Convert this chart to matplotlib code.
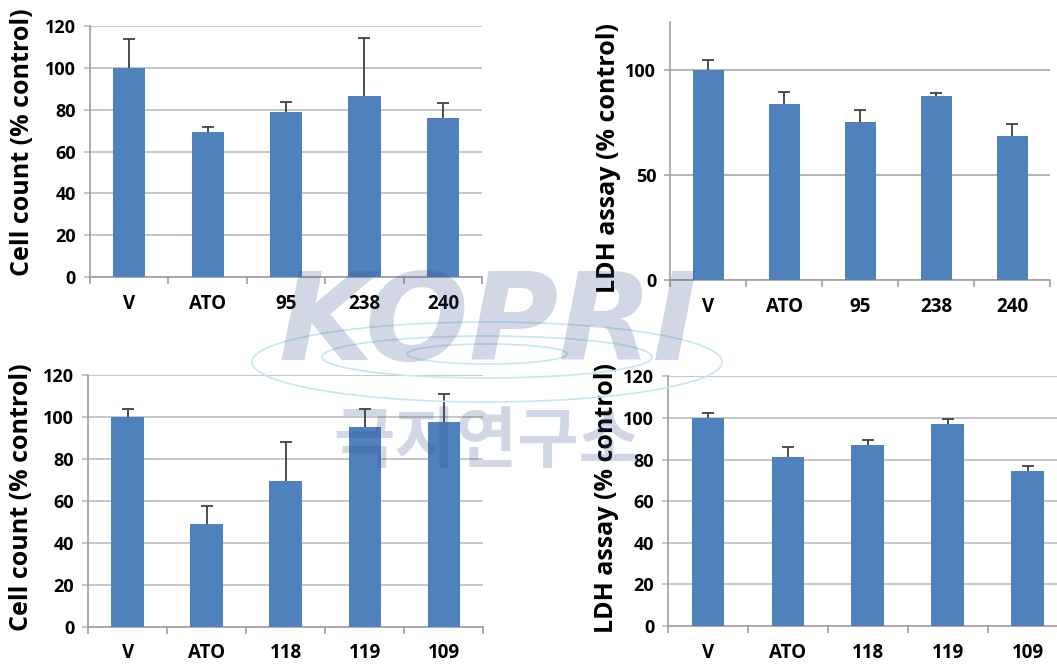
import numpy as np
import matplotlib
matplotlib.use("Agg")
import matplotlib.pyplot as plt
from matplotlib.patches import Ellipse

plt.rcParams['font.family'] = ['Open Sans', 'DejaVu Sans']

# top row
cats_top = ["V", "ATO", "95", "238", "240"]
cell_top = [100, 69.5, 79.0, 86.3, 76.2]
cell_top_err = [13.8, 2.4, 4.8, 27.8, 7.0]
ldh_top = [100, 83.7, 75.4, 87.6, 68.7]
ldh_top_err = [4.8, 6.0, 5.6, 1.3, 5.4]

# bottom row
cats_bot = ["V", "ATO", "118", "119", "109"]
cell_bot = [100, 49.1, 69.6, 95.4, 97.7]
cell_bot_err = [3.6, 8.4, 18.6, 8.4, 13.2]
ldh_bot = [100, 81.3, 86.9, 97.0, 74.4]
ldh_bot_err = [2.6, 4.6, 2.4, 2.7, 2.4]

bar_color = "#4F81BD"
grid_color = "#BDBDBD"
spine_color = "#9E9E9E"


def panel(ax, cats, vals, errs, ylabel, ymax, yticks, label_xy, grid_col=grid_color):
    x = np.arange(len(cats))
    ax.bar(x, vals, width=0.41, color=bar_color, zorder=3)
    eb = ax.errorbar(x, vals, yerr=[np.zeros(len(vals)), errs], fmt="none",
                     ecolor="#404040", elinewidth=1.3, capsize=4, capthick=1.3, zorder=4)
    # plus-only error bars: hide the cap sitting on the bar top
    eb[1][0].set_visible(False)
    ax.set_xlim(-0.5, len(cats) - 0.5)
    ax.set_ylim(0, ymax)
    ax.set_yticks(yticks)
    ax.set_yticklabels([str(t) for t in yticks], fontsize=13, fontweight="bold")
    ax.yaxis.grid(True, color=grid_col, linewidth=1.2, zorder=0)
    ax.set_axisbelow(True)
    # category boundaries as major ticks, labels on minor ticks
    ax.set_xticks(np.arange(len(cats) + 1) - 0.5)
    ax.set_xticklabels([])
    ax.set_xticks(x, minor=True)
    ax.set_xticklabels(cats, minor=True, fontsize=13.5, fontweight="bold")
    ax.tick_params(axis="x", which="major", length=5, width=1.2, color=spine_color, direction="out")
    ax.tick_params(axis="x", which="minor", length=0, pad=12)
    ax.tick_params(axis="y", length=4, width=1.2, color=grid_col, pad=6)
    for s in ["top", "right"]:
        ax.spines[s].set_visible(False)
    for s in ["left", "bottom"]:
        ax.spines[s].set_color(spine_color)
        ax.spines[s].set_linewidth(1.2)
    ax.set_ylabel(ylabel, fontsize=18, fontweight="bold")
    ax.yaxis.set_label_coords(*label_xy)


fig = plt.figure(figsize=(10.57, 6.66), dpi=100)

ax1 = fig.add_axes([0.0851, 0.584, 0.371, 0.377])
panel(ax1, cats_top, cell_top, cell_top_err, "Cell count (% control)", 120,
      [0, 20, 40, 60, 80, 100, 120], (-0.14, 0.538))

ax2 = fig.add_axes([0.634, 0.5796, 0.3595, 0.388])
panel(ax2, cats_top, ldh_top, ldh_top_err, "LDH assay (% control)", 123,
      [0, 50, 100], (-0.13, 0.472), grid_col="#A8A8A8")

ax3 = fig.add_axes([0.0833, 0.059, 0.374, 0.378])
panel(ax3, cats_bot, cell_bot, cell_bot_err, "Cell count (% control)", 120,
      [0, 20, 40, 60, 80, 100, 120], (-0.137, 0.515))

ax4 = fig.add_axes([0.632, 0.06, 0.378, 0.375])
panel(ax4, cats_bot, ldh_bot, ldh_bot_err, "LDH assay (% control)", 120,
      [0, 20, 40, 60, 80, 100, 120], (-0.1225, 0.514))

# watermark: globe lines, KOPRI logo text, Korean name
W, H = 1057, 666
for (cx, cy, w, h) in [(487, 362, 470, 80), (487, 357, 330, 42), (487, 354, 160, 20)]:
    fig.patches.append(Ellipse((cx / W, 1 - cy / H), w / W, h / H, transform=fig.transFigure,
                               fill=False, edgecolor="#C6E6F3", linewidth=1.2, zorder=10))
fig.text(488 / W, 1 - 327 / H, "KOPRI", ha="center", va="center", fontsize=88,
         fontweight="heavy", style="italic", family=["DejaVu Sans"],
         color="#304A8A", alpha=0.22, zorder=11)
fig.text(487 / W, 1 - 443 / H, "극지연구소", ha="center", va="center", fontsize=48,
         fontweight="bold", family=["Noto Sans CJK KR", "DejaVu Sans"],
         color="#304A8A", alpha=0.22, zorder=11)

fig.savefig("out.png", dpi=100)
